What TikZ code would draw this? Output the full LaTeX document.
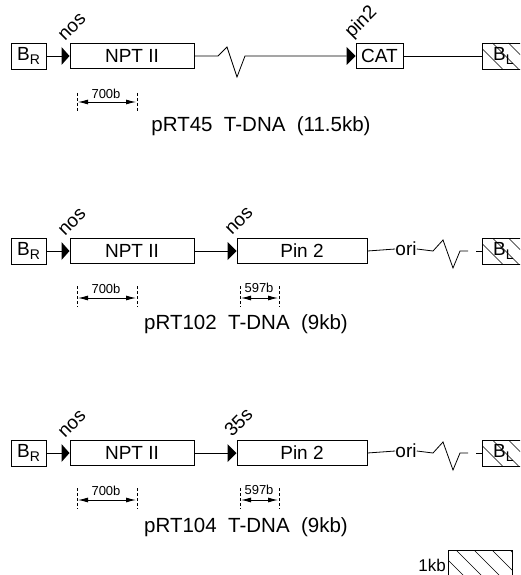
\documentclass[tikz,border=0pt]{standalone}
\usepackage{fontspec}
\setmainfont{Liberation Sans}
\usetikzlibrary{arrows.meta}
\newcommand{\sub}[1]{\raisebox{-4pt}{\fontsize{14}{14}\selectfont #1}}
\begin{document}
\begin{tikzpicture}[x=1pt,y=-1pt,
  every node/.style={inner sep=0pt},
  genebox/.style={draw,line width=1pt,minimum height=25pt,font=\fontsize{19}{19}\selectfont},
  bordbox/.style={draw,line width=0.9pt,minimum width=35pt,minimum height=26pt,font=\fontsize{19}{19}\selectfont},
  hatchbl/.style={path picture={\foreach \d in {-6,10,26}{\draw[line width=0.5pt] ([xshift=\d pt]path picture bounding box.north west) -- ++(26,26);}}},
  wire/.style={line width=0.8pt},
  prolab/.style={rotate=45,anchor=base west,font=\fontsize{19}{19}\selectfont},
  sclab/.style={font=\fontsize{13}{13}\selectfont},
  tickln/.style={line width=0.7pt,densely dashed},
  span/.style={line width=0.9pt,{Latex[length=10pt,width=5pt]}-{Latex[length=10pt,width=5pt]}},
  titlelab/.style={font=\fontsize{20.5}{20.5}\selectfont},
  promo/.style={fill=black},
]
\useasboundingbox (0,0) rectangle (520,575);
\clip (0,0) rectangle (520,575);

% ---------------- Row 1 ----------------
\node[bordbox] (br1) at (28.5,56) {B\sub{R}};
\node[genebox,minimum width=124pt] (npt1) at (132,56) {NPT II};
\coordinate (p1) at ([xshift=-8pt]npt1.west);
\draw[wire] (br1.east) -- (p1);
\fill[promo] (p1) ++(0,-9) -- (npt1.west) -- ([yshift=-9pt]p1) -- cycle;
\node[prolab] (l1a) at (65,42) {nos};
\coordinate (z1) at (218,56);
\coordinate (z1e) at (245,56);
\node[genebox,minimum width=47pt] (cat1) at (379.5,56) {CAT};
\coordinate (p1b) at ([xshift=-9pt]cat1.west);
\draw[wire] (npt1.east) -- (z1) -- (227,47) -- (237,77) -- (z1e) -- (p1b);
\fill[promo] (p1b) ++(0,-9) -- (cat1.west) -- ([yshift=-9pt]p1b) -- cycle;
\node[prolab] (l1b) at (352,39) {pin2};
\node[bordbox,minimum width=42pt,anchor=west,hatchbl] (bl1) at (482,56) {B\sub{L}};
\draw[wire] (cat1.east) -- (bl1.west);
% scale
\draw[tickln] (77,93) -- (77,112);
\draw[tickln] (137,93) -- (137,112);
\draw[span] (78,102) -- (136,102);
\node[sclab] (s1) at (106,94) {700b};
\node[titlelab] (t1) at (261,126) {pRT45\ \ T-DNA\ \ (11.5kb)};

% ---------------- Row 2 ----------------
\node[bordbox] (br2) at (28.5,251) {B\sub{R}};
\node[genebox,minimum width=124pt] (npt2) at (132,251) {NPT II};
\coordinate (p2) at ([xshift=-8pt]npt2.west);
\draw[wire] (br2.east) -- (p2);
\fill[promo] (p2) ++(0,-9) -- (npt2.west) -- ([yshift=-9pt]p2) -- cycle;
\node[prolab] (l2a) at (65,237) {nos};
\node[genebox,minimum width=130pt] (pin2) at (302,251) {Pin 2};
\coordinate (p2b) at ([xshift=-9pt]pin2.west);
\draw[wire] (npt2.east) -- (p2b);
\fill[promo] (p2b) ++(0,-9) -- (pin2.west) -- ([yshift=-9pt]p2b) -- cycle;
\node[prolab] (l2b) at (232,236) {nos};
\node[font=\fontsize{19}{19}\selectfont] (ori2) at (406,249) {ori};
\draw[wire] (pin2.east) -- (ori2.west);
\coordinate (z2e) at (468,251);
\draw[wire] (ori2.east) -- (433,251) -- (443,240) -- (453,268) -- (460,251) -- (z2e);
\node[bordbox,minimum width=42pt,anchor=west,hatchbl] (bl2) at (482,251) {B\sub{L}};
\coordinate (c2) at (476,251);
\draw[wire] (c2) -- (bl2.west);
\draw[tickln] (77,286) -- (77,307);
\draw[tickln] (137,286) -- (137,307);
\draw[span] (78,298) -- (136,298);
\node[sclab] (s2) at (106,289) {700b};
\draw[tickln] (240,286) -- (240,307);
\draw[tickln] (279,286) -- (279,307);
\draw[span] (241,298) -- (278,298);
\node[sclab] (s3) at (259,288) {597b};
\node[titlelab] (t2) at (246,324) {pRT102\ \ T-DNA\ \ (9kb)};

% ---------------- Row 3 ----------------
\node[bordbox] (br3) at (28.5,453) {B\sub{R}};
\node[genebox,minimum width=124pt] (npt3) at (132,453) {NPT II};
\coordinate (p3) at ([xshift=-8pt]npt3.west);
\draw[wire] (br3.east) -- (p3);
\fill[promo] (p3) ++(0,-9) -- (npt3.west) -- ([yshift=-9pt]p3) -- cycle;
\node[prolab] (l3a) at (65,439) {nos};
\node[genebox,minimum width=130pt] (pin3) at (302,453) {Pin 2};
\coordinate (p3b) at ([xshift=-9pt]pin3.west);
\draw[wire] (npt3.east) -- (p3b);
\fill[promo] (p3b) ++(0,-9) -- (pin3.west) -- ([yshift=-9pt]p3b) -- cycle;
\node[prolab] (l3b) at (232,438) {35s};
\node[font=\fontsize{19}{19}\selectfont] (ori3) at (406,451) {ori};
\draw[wire] (pin3.east) -- (ori3.west);
\coordinate (z3e) at (468,453);
\draw[wire] (ori3.east) -- (433,453) -- (443,442) -- (453,470) -- (460,453) -- (z3e);
\node[bordbox,minimum width=42pt,anchor=west,hatchbl] (bl3) at (482,453) {B\sub{L}};
\coordinate (c3) at (476,453);
\draw[wire] (c3) -- (bl3.west);
\draw[tickln] (77,488) -- (77,509);
\draw[tickln] (137,488) -- (137,509);
\draw[span] (78,500) -- (136,500);
\node[sclab] (s4) at (106,491) {700b};
\draw[tickln] (240,488) -- (240,509);
\draw[tickln] (279,488) -- (279,509);
\draw[span] (241,500) -- (278,500);
\node[sclab] (s5) at (259,490) {597b};
\node[titlelab] (t3) at (246,527) {pRT104\ \ T-DNA\ \ (9kb)};

% ---------------- 1kb scale ----------------
\node[draw,line width=0.9pt,minimum width=64pt,minimum height=32pt,anchor=north west,
  path picture={\foreach \d in {-10,8,26,44,62}{\draw[line width=0.5pt] ([xshift=\d pt]path picture bounding box.north west) -- ++(32,32);}}] (kb) at (448,550) {};
\node[font=\fontsize{17}{17}\selectfont,anchor=east] (kbl) at (446,565) {1kb};
\end{tikzpicture}
\end{document}
